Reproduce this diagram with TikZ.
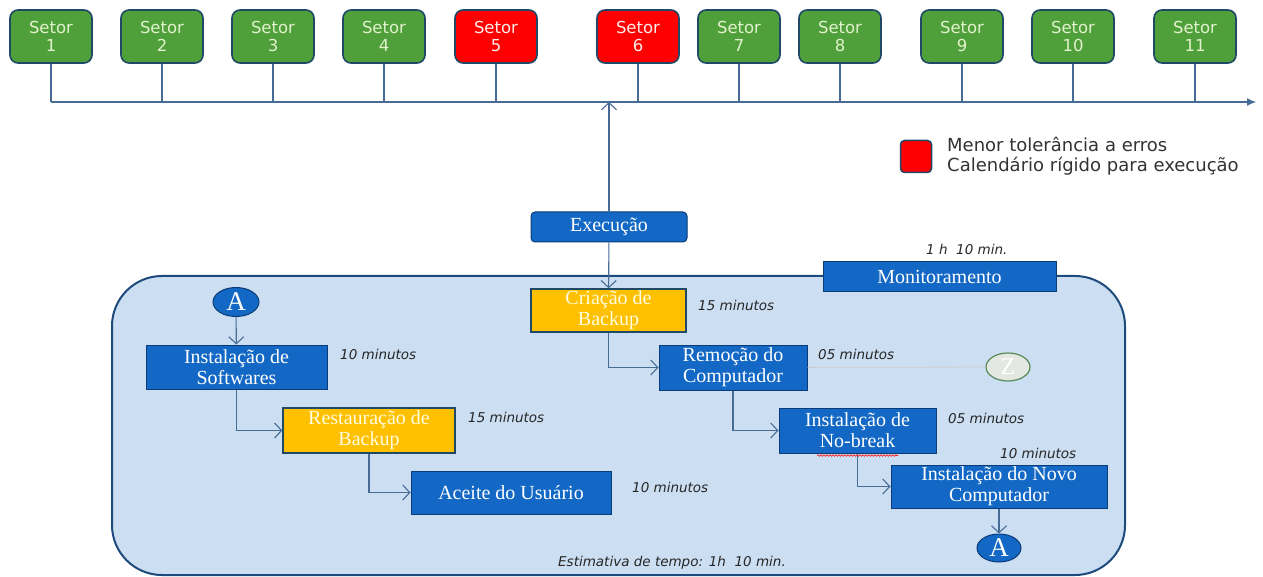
\documentclass[tikz,border=0pt]{standalone}
\usepackage{fontspec}
\setmainfont{Liberation Serif}
\newfontfamily\dvs{DejaVu Sans}
\usetikzlibrary{arrows.meta,decorations.pathmorphing,shapes.geometric}
\definecolor{setgreen}{RGB}{79,159,58}
\definecolor{setred}{RGB}{255,0,0}
\definecolor{setborder}{RGB}{31,73,100}
\definecolor{settext}{RGB}{225,242,205}
\definecolor{boxblue}{RGB}{18,104,196}
\definecolor{boxborder}{RGB}{12,60,120}
\definecolor{boxorange}{RGB}{255,192,0}
\definecolor{linecol}{RGB}{70,108,150}
\definecolor{regionfill}{RGB}{204,222,242}
\definecolor{regionborder}{RGB}{30,75,125}
\begin{document}
\begin{tikzpicture}[x=1pt,y=-1pt,
  setorbox/.style={draw=setborder,line width=1.6pt,rounded corners=8pt,fill=setgreen,
    minimum width=82pt,minimum height=53pt,inner sep=0pt,align=center,
    text=settext,font=\dvs\fontsize{16.5}{18}\selectfont},
  setorred/.style={setorbox,fill=setred,text=red!8},
  bluebox/.style={draw=boxborder,line width=1pt,fill=boxblue,text=white,inner sep=0pt,
    align=center,font=\fontsize{20}{21}\selectfont},
  orangebox/.style={bluebox,draw=setborder,line width=1.4pt,fill=boxorange,text=yellow!12},
  circ/.style={ellipse,draw=boxborder,line width=1pt,fill=boxblue,text=white,inner sep=0pt,
    font=\fontsize{27}{27}\selectfont},
  timelbl/.style={anchor=west,inner sep=0pt,font=\dvs\itshape\fontsize{13.5}{15}\selectfont,text=black!85},
  conn/.style={draw=linecol,line width=1.1pt},
  arr/.style={conn,-{Straight Barb[length=7pt,width=15pt]}},
]
\useasboundingbox (0,0) rectangle (1263,577);
\fill[white] (0,0) rectangle (1263,577);
% region
\draw[fill=regionfill,draw=regionborder,line width=2pt,rounded corners=50pt]
  (112,276) rectangle (1125,575);
% timeline
\foreach \i/\x in {1/51,2/162,3/273,4/384,7/739,8/840,9/962,10/1073,11/1195}{
  \node[setorbox] (s\i) at (\x,36.5) {Setor\\\i};
}
\foreach \i/\x in {5/496,6/638}{
  \node[setorred] (s\i) at (\x,36.5) {Setor\\\i};
}
\coordinate (axstart) at (51,102);
\coordinate (axend) at (1256,102);
\draw[conn,-{Latex[length=9pt,width=8pt]}] (axstart) -- (axend);
\foreach \i in {1,...,11}{
  \draw[conn] (s\i.south) -- (s\i.south |- axstart);
}
% legend
\node[draw=setborder,line width=1.5pt,fill=setred,rounded corners=4pt,minimum width=31pt,
  minimum height=32pt,inner sep=0pt] (leg) at (916,156.5) {};
\node[anchor=west,inner sep=0pt,align=left,font=\dvs\fontsize{18}{20}\selectfont,text=black!80]
  (legtxt) at (947,156.5) {Menor tolerância a erros\\Calendário rígido para execução};
% execution
\node[bluebox,rounded corners=4pt,minimum width=156pt,minimum height=30pt] (exec) at (609,227) {Execução};
\coordinate (axhit) at (609,102);
\draw[arr] (exec) -- (axhit);
\node[bluebox,minimum width=233pt,minimum height=29pt] (mon) at (939.5,276.5) {Monitoramento};
\node[timelbl] (tmon) at (926,249) {1 h\ \ 10 min.};
\node[orangebox,minimum width=155pt,minimum height=43pt] (cria) at (608.5,310.5) {Criação de\\Backup};
\draw[arr] (exec) -- (cria);
% left chain
\node[circ,minimum width=46pt,minimum height=29pt] (atop) at (236,302) {A};
\node[bluebox,minimum width=181pt,minimum height=44pt] (soft) at (236.5,367) {Instalação de\\Softwares};
\node[orangebox,minimum width=172pt,minimum height=45pt] (rest) at (369,430.5) {Restauração de\\Backup};
\node[bluebox,minimum width=200pt,minimum height=43pt] (aceite) at (511,492.5) {Aceite do Usuário};
\draw[arr] (atop) -- (soft);
\draw[arr] (soft) |- (rest);
\draw[arr] (rest) |- (aceite);
% right chain
\node[bluebox,minimum width=148pt,minimum height=45pt] (remo) at (733,367.5) {Remoção do\\Computador};
\node[ellipse,draw=black!35!green!30!gray,line width=1.2pt,fill=green!8!gray!20,text=white,
  minimum width=44pt,minimum height=28pt,inner sep=0pt,font=\fontsize{24}{24}\selectfont] (zc) at (1008,367) {Z};
\draw[draw=gray!40,line width=0.8pt] (remo) -- (zc);
\node[bluebox,minimum width=157pt,minimum height=45pt] (nobr) at (857.5,430.5) {Instalação de\\No-break};
\node[bluebox,minimum width=216pt,minimum height=43pt] (novo) at (999,486.5) {Instalação do Novo\\Computador};
\node[circ,minimum width=44pt,minimum height=28pt] (abot) at (999,548) {A};
\draw[arr] (cria) |- (remo);
\draw[arr] (remo) |- (nobr);
\draw[arr] (nobr) |- (novo);
\draw[arr] (novo) -- (abot);
\draw[red,line width=0.6pt,decorate,decoration={snake,amplitude=0.8pt,segment length=3pt}]
  (817,455.5) -- (898,455.5);
% time labels
\node[timelbl] (t1) at (340,354) {10 minutos};
\node[timelbl] (t2) at (468,417) {15 minutos};
\node[timelbl] (t3) at (632,487) {10 minutos};
\node[timelbl] (t4) at (698,305) {15 minutos};
\node[timelbl] (t5) at (818,354) {05 minutos};
\node[timelbl] (t6) at (948,418) {05 minutos};
\node[timelbl] (t7) at (1000,453) {10 minutos};
\node[timelbl] (test) at (558,563) {Estimativa de tempo: 1h\ \ 10 min.};
\end{tikzpicture}
\end{document}
